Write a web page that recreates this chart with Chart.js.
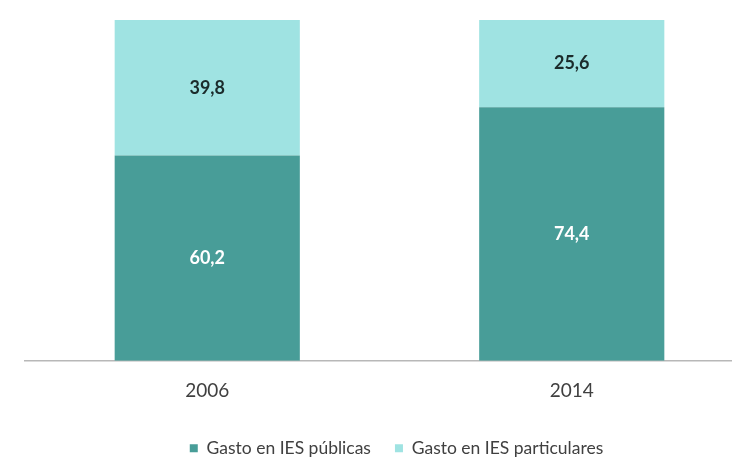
<!DOCTYPE html>
<html>
<head>
<meta charset="utf-8">
<script src="https://cdn.jsdelivr.net/npm/chart.js@4/dist/chart.umd.min.js"></script>
<style>
  html, body { margin: 0; padding: 0; background: #ffffff; overflow: hidden; }
  #wrap { width: 774px; height: 458px; }
</style>
</head>
<body>
<div id="wrap"><canvas id="c" width="774" height="458"></canvas></div>
<script>
// Share of higher-education spending, public vs private institutions (%)
const years = ['2006', '2014'];
const publicas = [60.2, 74.4];
const particulares = [39.8, 25.6];
const seriesNames = ['Gasto en IES públicas', 'Gasto en IES particulares'];

const darkTeal = '#489d98';
const lightTeal = '#9fe3e2';
const fontFamily = 'Lato, "Open Sans", sans-serif';

const fmt = v => v.toFixed(1).replace('.', ',');

// Draws each segment's value in the middle of its bar piece
const valueLabels = {
  id: 'valueLabels',
  afterDatasetsDraw(chart) {
    const ctx = chart.ctx;
    ctx.save();
    ctx.font = 'bold 18px ' + fontFamily;
    ctx.textAlign = 'center';
    ctx.textBaseline = 'middle';
    chart.data.datasets.forEach((ds, i) => {
      const meta = chart.getDatasetMeta(i);
      meta.data.forEach((bar, j) => {
        const p = bar.getProps(['x', 'y', 'base'], true);
        ctx.fillStyle = i === 0 ? '#ffffff' : '#1b2b2b';
        ctx.fillText(fmt(ds.data[j]), p.x, (p.y + p.base) / 2);
      });
    });
    ctx.restore();
  }
};

new Chart(document.getElementById('c'), {
  type: 'bar',
  data: {
    labels: years,
    datasets: [
      { label: seriesNames[0], data: publicas, backgroundColor: darkTeal },
      { label: seriesNames[1], data: particulares, backgroundColor: lightTeal }
    ]
  },
  options: {
    responsive: false,
    animation: false,
    layout: { padding: { left: 25, right: 6, top: 20, bottom: -9 } },
    datasets: { bar: { barPercentage: 1, categoryPercentage: 0.508 } },
    scales: {
      x: {
        stacked: true,
        grid: { display: false },
        border: { display: true, color: '#b8b8b8', width: 1.5 },
        ticks: { color: '#404040', font: { size: 19, family: fontFamily }, padding: 11 },
        afterFit: s => { s.height += 2; }
      },
      y: {
        stacked: true,
        position: 'right',
        min: 0,
        max: 100,
        grid: { display: false },
        border: { display: false },
        ticks: { display: false },
        afterFit: s => { s.width = 14; }
      }
    },
    plugins: {
      legend: {
        position: 'bottom',
        labels: {
          boxWidth: 8,
          boxHeight: 8,
          padding: 24,
          color: '#404040',
          font: { size: 17.5, family: fontFamily }
        }
      },
      tooltip: { enabled: false }
    }
  },
  plugins: [valueLabels]
});
</script>
</body>
</html>
